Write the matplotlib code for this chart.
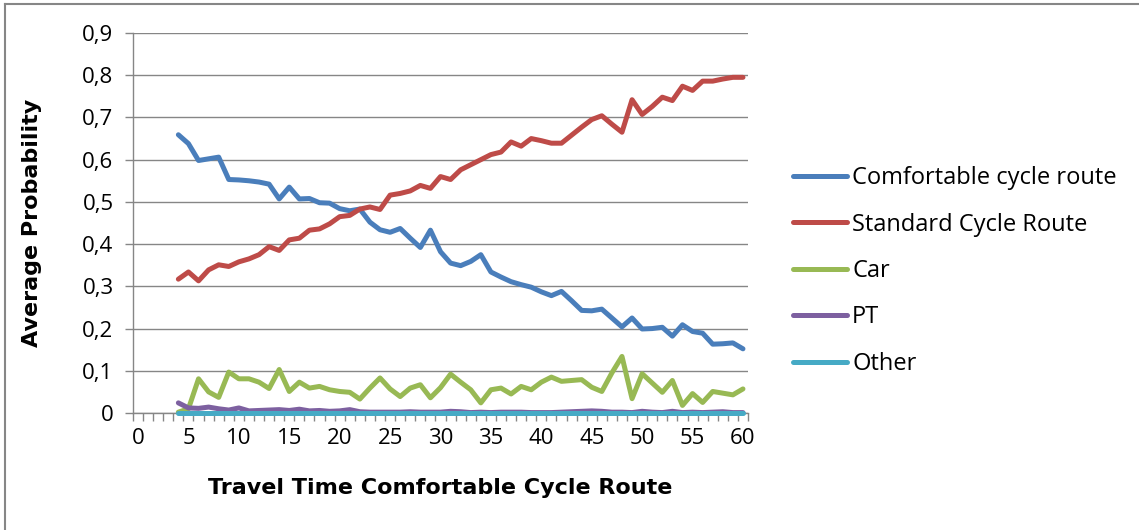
import matplotlib.pyplot as plt
from matplotlib.lines import Line2D
from matplotlib.ticker import FixedLocator, FuncFormatter

# categories on the x axis (0..60), data starts at 4
categories = list(range(0, 61))
x_data = list(range(4, 61))

comfortable = [0.659, 0.638, 0.598, 0.602, 0.606, 0.553, 0.552, 0.550, 0.547, 0.542,
               0.507, 0.535, 0.507, 0.508, 0.498, 0.497, 0.484, 0.479, 0.483, 0.452,
               0.434, 0.428, 0.437, 0.414, 0.392, 0.433, 0.382, 0.355, 0.349, 0.359,
               0.375, 0.334, 0.322, 0.311, 0.304, 0.298, 0.287, 0.278, 0.288, 0.266,
               0.243, 0.242, 0.246, 0.225, 0.204, 0.225, 0.199, 0.200, 0.203, 0.182,
               0.209, 0.193, 0.189, 0.163, 0.164, 0.166, 0.152]
standard = [0.317, 0.334, 0.313, 0.339, 0.351, 0.347, 0.358, 0.365, 0.375, 0.394,
            0.385, 0.410, 0.414, 0.433, 0.436, 0.448, 0.465, 0.468, 0.483, 0.488,
            0.482, 0.516, 0.520, 0.526, 0.539, 0.532, 0.560, 0.553, 0.576, 0.588,
            0.600, 0.612, 0.618, 0.642, 0.632, 0.650, 0.645, 0.639, 0.639, 0.658,
            0.677, 0.695, 0.704, 0.684, 0.665, 0.742, 0.707, 0.726, 0.748, 0.740,
            0.774, 0.764, 0.786, 0.786, 0.791, 0.795, 0.795]
car = [0.002, 0.010, 0.081, 0.050, 0.037, 0.097, 0.081, 0.081, 0.073, 0.058,
       0.103, 0.051, 0.073, 0.059, 0.063, 0.055, 0.051, 0.049, 0.033, 0.059,
       0.083, 0.057, 0.039, 0.059, 0.067, 0.036, 0.060, 0.092, 0.073, 0.055,
       0.024, 0.055, 0.059, 0.045, 0.063, 0.055, 0.073, 0.085, 0.075, 0.077,
       0.079, 0.061, 0.051, 0.095, 0.134, 0.034, 0.093, 0.071, 0.049, 0.077,
       0.018, 0.046, 0.025, 0.051, 0.047, 0.043, 0.057]
pt = [0.024, 0.012, 0.011, 0.014, 0.010, 0.007, 0.012, 0.005, 0.006, 0.007,
      0.008, 0.006, 0.009, 0.005, 0.006, 0.004, 0.005, 0.008, 0.003, 0.002,
      0.002, 0.002, 0.002, 0.003, 0.002, 0.002, 0.002, 0.004, 0.003, 0.001,
      0.002, 0.001, 0.002, 0.002, 0.002, 0.001, 0.001, 0.001, 0.002, 0.003,
      0.004, 0.005, 0.004, 0.002, 0.002, 0.001, 0.004, 0.002, 0.001, 0.004,
      0.001, 0.002, 0.001, 0.002, 0.003, 0.001, 0.001]
other = [0.0] * 57

series = [
    ("Comfortable cycle route", comfortable, "#4a7ebb"),
    ("Standard Cycle Route", standard, "#be4b48"),
    ("Car", car, "#98b954"),
    ("PT", pt, "#7d60a0"),
    ("Other", other, "#46aac5"),
]
y_ticks = [0, 0.1, 0.2, 0.3, 0.4, 0.5, 0.6, 0.7, 0.8, 0.9]

plt.rcParams['font.family'] = ['Open Sans', 'DejaVu Sans']
grey = "#868686"

fig = plt.figure(figsize=(11.39, 5.30), dpi=100)
ax = fig.add_axes([133 / 1139, 1 - 413 / 530, (748 - 133) / 1139, (413 - 33) / 530])

for i, (name, vals, col) in enumerate(series):
    ax.plot(x_data, vals, color=col, lw=3.6, label=name, solid_capstyle='round',
            solid_joinstyle='round', clip_on=False, zorder=4 + i)

ax.set_xlim(-0.5, 60.5)
ax.set_ylim(0, 0.9)
ax.set_yticks(y_ticks)
ax.yaxis.set_major_formatter(FuncFormatter(
    lambda v, p: "0" if abs(v) < 1e-9 else f"{v:.1f}".replace(".", ",")))
ax.grid(axis='y', color=grey, lw=1.0)
ax.set_axisbelow(True)

ax.xaxis.set_major_locator(FixedLocator(categories[::5]))
ax.xaxis.set_minor_locator(FixedLocator([c - 0.5 for c in categories] + [60.5]))
ax.tick_params(axis='x', which='major', length=0, pad=11, labelsize=16)
ax.tick_params(axis='x', which='minor', length=6, width=1, color=grey)
ax.tick_params(axis='y', length=6, width=1, color=grey, labelsize=16, pad=8)

for s in ['top', 'right']:
    ax.spines[s].set_visible(False)
for s in ['left', 'bottom']:
    ax.spines[s].set_color(grey)
    ax.spines[s].set_linewidth(1.0)

ax.set_xlabel("Travel Time Comfortable Cycle Route", fontsize=16, fontweight='bold',
              family='DejaVu Sans', labelpad=21)
ax.set_ylabel("Average Probability", fontsize=16, fontweight='bold',
              family='DejaVu Sans', labelpad=29)

leg = ax.legend(loc='center left', bbox_to_anchor=(793 / 1139, 1 - 271 / 530),
                bbox_transform=fig.transFigure, frameon=False, fontsize=17,
                handlelength=2.3, handletextpad=0.2, labelspacing=0.95, borderpad=0,
                borderaxespad=0)

# chart area border (only left and top visible in the crop)
fig.add_artist(Line2D([5 / 1139, 5 / 1139], [0, 1 - 4 / 530], color=grey, lw=1.5))
fig.add_artist(Line2D([5 / 1139, 1], [1 - 4 / 530, 1 - 4 / 530], color=grey, lw=1.5))

fig.savefig("out.png", dpi=100)
